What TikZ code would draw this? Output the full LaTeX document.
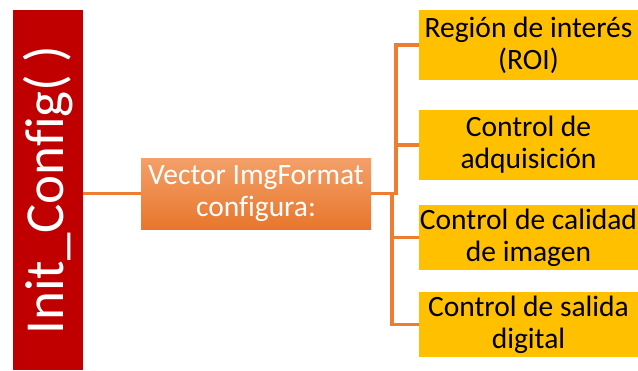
\documentclass[tikz,border=0pt]{standalone}
\usepackage{fontspec}
\setmainfont[Ligatures=NoCommon]{Carlito}
\usepackage{tikz}
\usetikzlibrary{calc}
\definecolor{cfgred}{RGB}{192,0,0}
\definecolor{cfgorange}{RGB}{237,125,49}
\definecolor{cfgorangelt}{RGB}{243,160,105}
\definecolor{cfgorangedk}{RGB}{232,118,44}
\definecolor{cfgyellow}{RGB}{255,192,0}

\begin{document}
\begin{tikzpicture}[x=1pt,y=-1pt,font=\fontsize{29.5}{32}\selectfont,
  initbox/.style={fill=cfgred,text=white,rotate=90,minimum width=360pt,
    minimum height=70pt,inner sep=0pt,font=\fontsize{55}{60}\selectfont},
  fmtbox/.style={top color=cfgorangelt,bottom color=cfgorangedk,text=white,
    minimum width=230pt,minimum height=71pt,inner sep=0pt,align=center},
  itembox/.style={fill=cfgyellow,minimum width=219pt,inner sep=0pt,align=center},
  link/.style={draw=cfgorange,line width=3.5pt}]
  \useasboundingbox (0,0) rectangle (638,370);
  \def\X{528.5}
  % left bar and the vector box
  \node[initbox] (init) at (48,190) {\raisebox{-2pt}{Init\_Config( )}};
  \node[fmtbox] (cfg) at (256,193.5) {Vector ImgFormat\\configura:};
  % the four settings
  \node[itembox,minimum height=70pt] (roi) at (\X,45) {Región de interés\\(ROI)};
  \node[itembox,minimum height=70pt] (acq) at (\X,145) {Control de\\adquisición};
  \node[itembox,minimum height=65pt] (qual) at (\X,237.5) {Control de calidad\\de imagen};
  \node[itembox,minimum height=65pt] (out) at (\X,324.5) {Control de salida\\digital};
  % connectors
  \draw[link] (init.south |- cfg.west) -- (cfg.west);
  \draw[link] (cfg.east) -- ++(25,0) |- (roi.west);
  \draw[link] (cfg.east) -- ++(25,0) |- (acq.west);
  \draw[link] (cfg.east) -- ++(21,0) |- (qual.west);
  \draw[link] (cfg.east) -- ++(21,0) |- (out.west);
\end{tikzpicture}
\end{document}
